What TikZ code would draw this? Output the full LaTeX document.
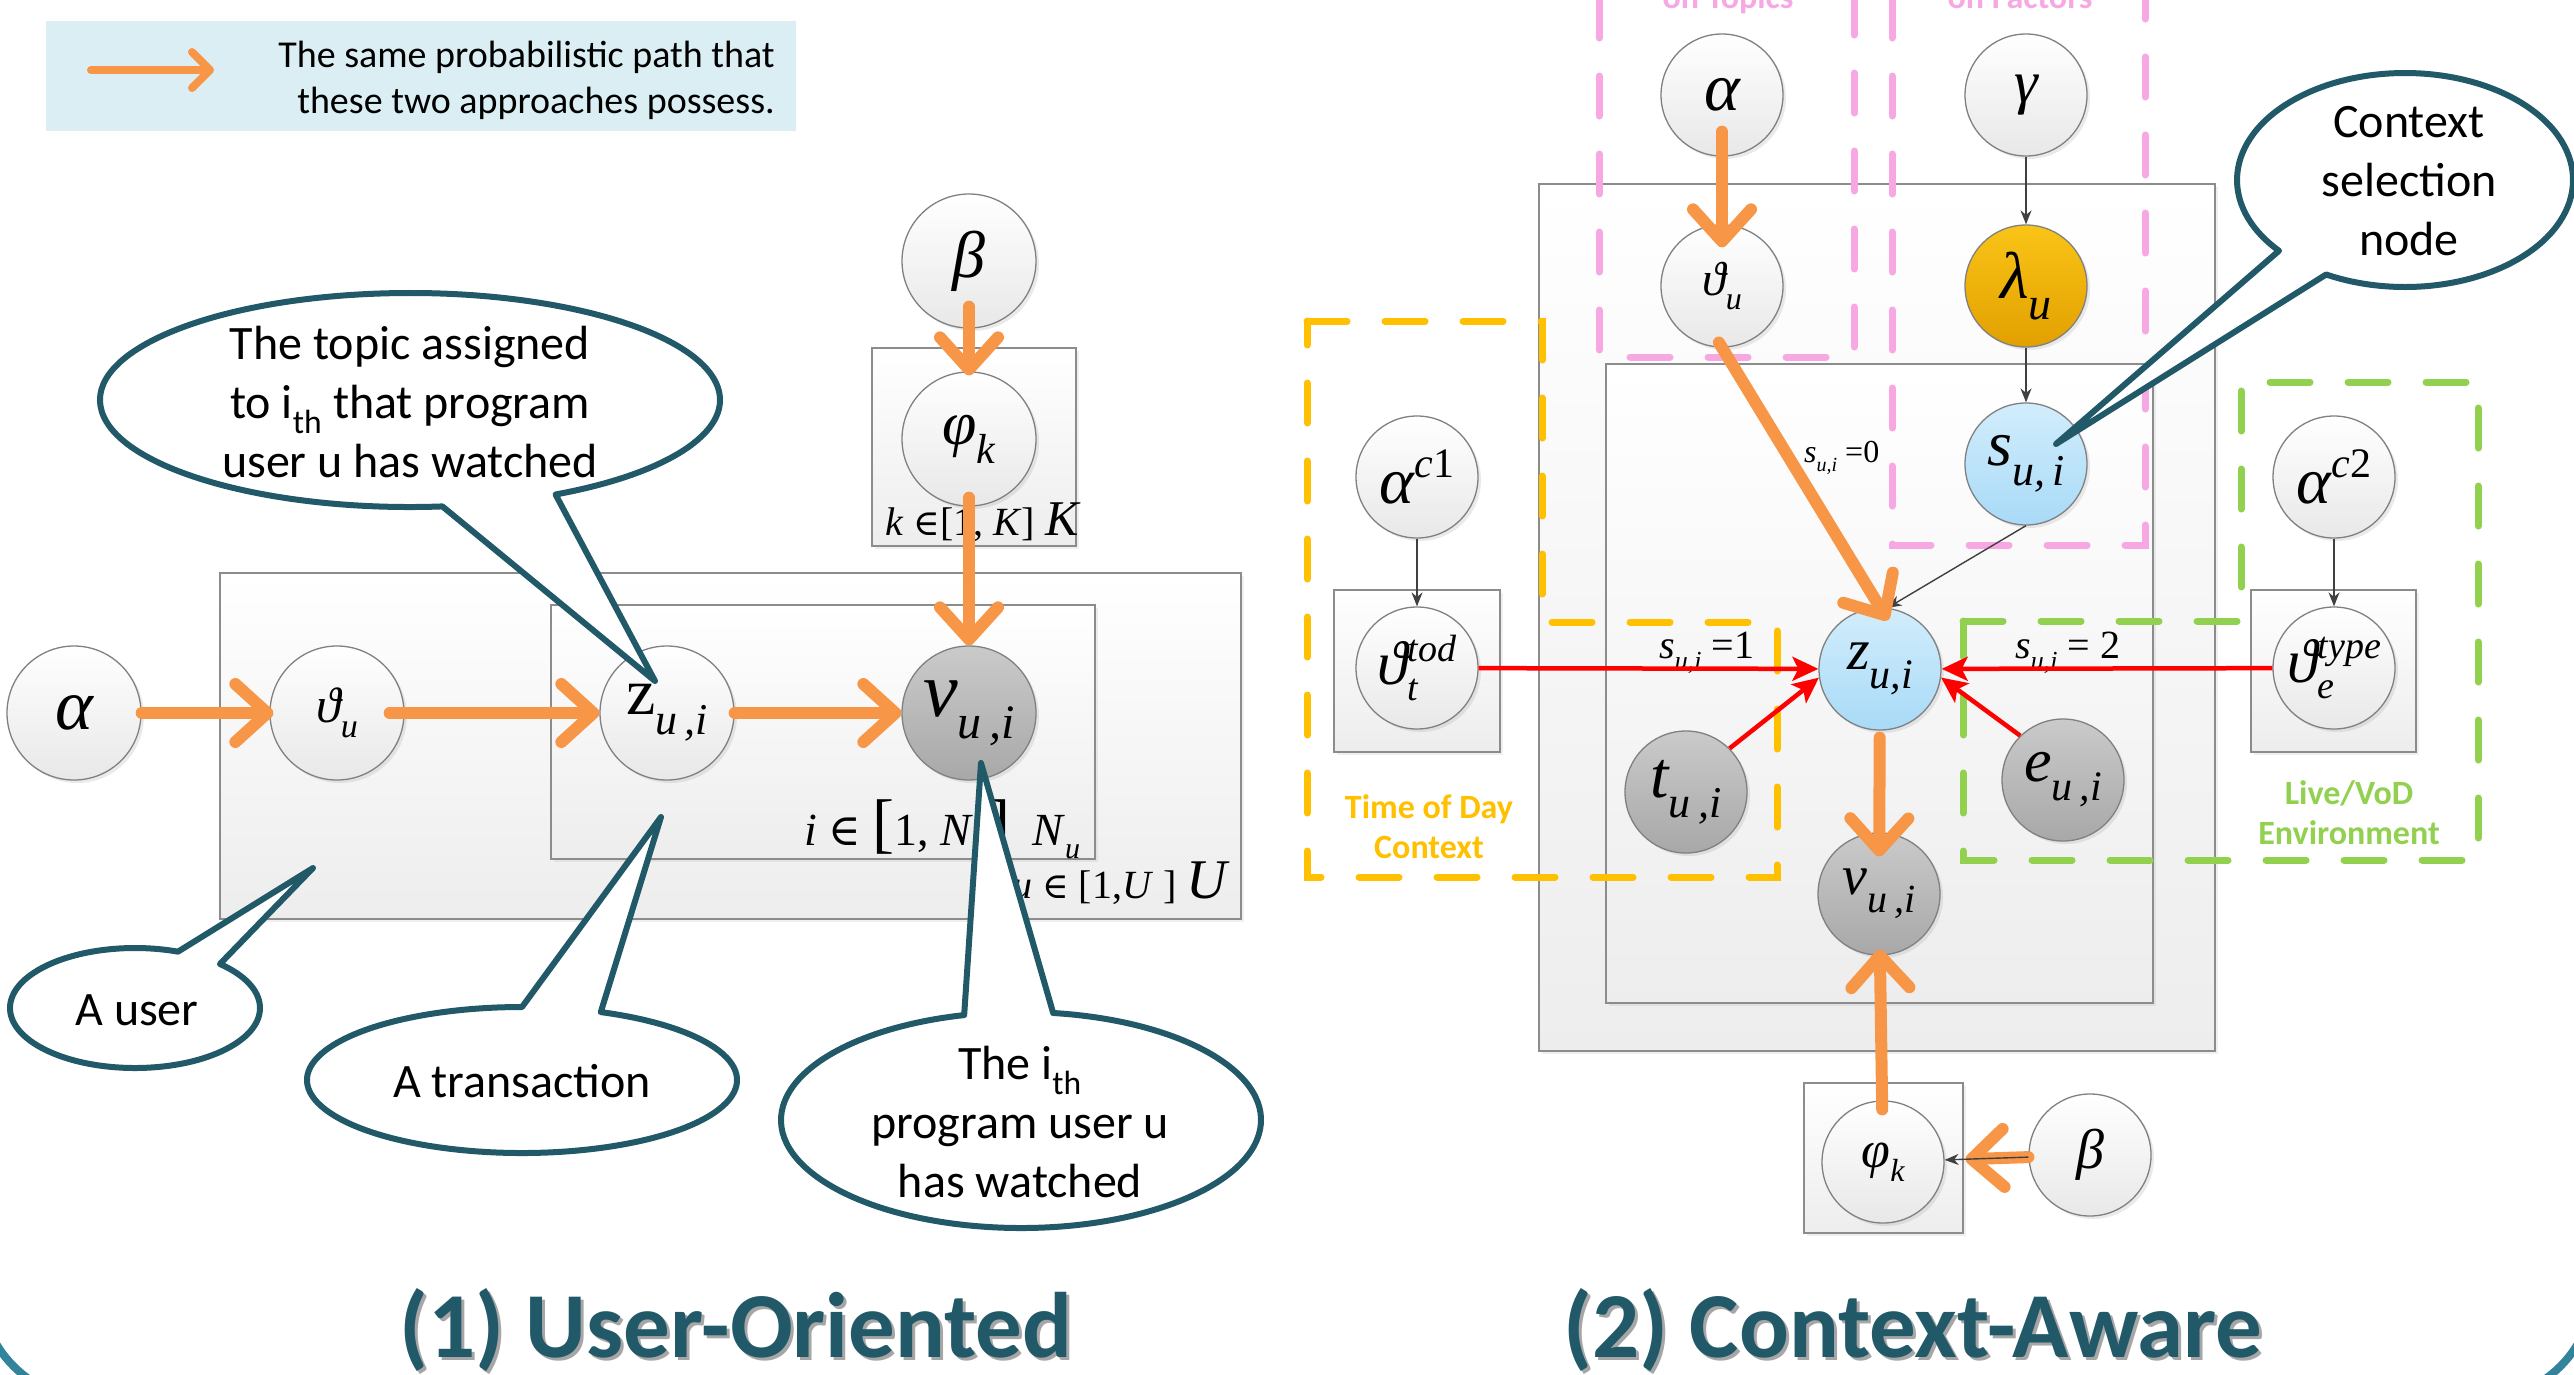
\documentclass[tikz,border=0pt]{standalone}
\usepackage{fontspec}
\setmainfont{Carlito}
\newfontfamily\tms{Liberation Serif}
\newfontfamily\djs{DejaVu Serif}
\usetikzlibrary{arrows.meta,shadows,calc}

\definecolor{orng}{HTML}{F79646}
\definecolor{tealdk}{HTML}{215968}
\definecolor{legbg}{HTML}{DBEEF4}
\definecolor{pinkd}{HTML}{F7A8E3}
\definecolor{yelld}{HTML}{FFC000}
\definecolor{greend}{HTML}{92D050}
\definecolor{bordr}{HTML}{31849B}
\definecolor{obsA}{HTML}{CACACA}
\definecolor{obsB}{HTML}{A8A8A8}
\definecolor{blueA}{HTML}{D2EDFC}
\definecolor{blueB}{HTML}{A8DAF7}
\definecolor{goldA}{HTML}{FAC417}
\definecolor{goldB}{HTML}{E2A000}
\definecolor{arrgray}{HTML}{404040}
\definecolor{redarr}{HTML}{FF0000}

% italic serif symbol, drawn at 20pt and scaled to the wanted size
\newcommand\mv[2]{\scalebox{\fpeval{#1/20}}{\tms\itshape\fontsize{20}{20}\selectfont #2}}
% lowered / raised indices in the serif italic face
\newcommand\lo[2]{\scalebox{\fpeval{#1/20}}{\tms\itshape\fontsize{20}{20}\selectfont\raisebox{-0.45em}{#2}}}
\newcommand\hi[2]{\scalebox{\fpeval{#1/20}}{\tms\itshape\fontsize{20}{20}\selectfont\raisebox{0.62em}{#2}}}
\newcommand\hilo[3]{\scalebox{\fpeval{#1/20}}{\tms\itshape\fontsize{20}{20}\selectfont
  \rlap{\raisebox{-0.42em}{#3}}\raisebox{0.62em}{#2}}}
\newcommand\elem[1]{{\djs\fontsize{#1}{#1}\selectfont ∈}}

\tikzset{
  rvbase/.style={circle, inner sep=0pt, draw=black!50, line width=1.3pt,
    drop shadow={shadow xshift=3pt, shadow yshift=-3pt, opacity=0.16}},
  latL/.style={rvbase, minimum size=134pt, top color=white, bottom color=black!9},
  obsL/.style={rvbase, minimum size=134pt, top color=obsA, bottom color=obsB},
  latR/.style={rvbase, minimum size=122pt, top color=white, bottom color=black!9},
  obsR/.style={rvbase, minimum size=122pt, top color=obsA, bottom color=obsB},
  blueR/.style={rvbase, minimum size=122pt, top color=blueA, bottom color=blueB},
  goldR/.style={rvbase, minimum size=122pt, top color=goldA, bottom color=goldB},
  sym/.style={inner sep=0pt},
  plate/.style={draw=black!45, line width=1.3pt, top color=white, bottom color=black!7,
    drop shadow={shadow xshift=3pt, shadow yshift=-3pt, opacity=0.12}},
  oarr/.style={draw=orng, line width=12pt, line cap=round,
    -{Straight Barb[length=32pt,width=58pt,round]}},
  thinarr/.style={draw=arrgray, line width=1.4pt, -{Stealth[length=14pt,width=11pt]}},
  rarr/.style={draw=redarr, line width=4.5pt, -{Stealth[length=26pt,width=24pt,inset=6pt]}},
  dashbox/.style={line width=7pt, line cap=round, dash pattern=on 40pt off 38pt},
  callout/.style={draw=tealdk, line width=6pt, fill=white, line join=round},
  calltext/.style={align=center, font=\fontsize{48}{59}\selectfont, inner sep=0pt},
  lbl/.style={inner sep=0pt, font=\tms\fontsize{#1}{#1}\selectfont},
}

\begin{document}
\begin{tikzpicture}[x=1pt, y=-1pt]
\useasboundingbox (0,0) rectangle (2574,1374);
\fill[white] (0,0) rectangle (2574,1374);
\clip (0,0) rectangle (2574,1374);

% outer frame, only its lower corners fall inside the page
\draw[bordr, line width=8pt, rounded corners=115pt] (-20,-300) rectangle (2594,1400);

% legend
\fill[legbg] (46,21) rectangle (796,131);
\coordinate (legA) at (91,70);
\coordinate (legB) at (214,70);
\draw[oarr, line width=8pt, -{Straight Barb[length=18pt,width=36pt,round]}] (legA) -- (legB);
\node[anchor=base east, inner sep=0pt, font=\fontsize{38}{38}\selectfont] (leg1) at (775,67) {The same probabilistic path that};
\node[anchor=base east, inner sep=0pt, font=\fontsize{38}{38}\selectfont] (leg2) at (775,113) {these two approaches possess.};

% ---------- (1) user-oriented model ----------
\draw[plate] (220,573) rectangle (1241,919);
\draw[plate] (551,605) rectangle (1095,859);
\draw[plate] (872,348) rectangle (1076,546);

\node[latL] (aL) at (74,713) {};
\node[latL] (thL) at (337,713) {};
\node[latL] (zL) at (667,713) {};
\node[obsL] (vL) at (969,713) {};
\node[latL] (bL) at (969,261) {};
\node[latL] (pL) at (969,439) {};

\node[sym] (aLt) at (aL.center) {\mv{72}{α}};
\node[sym] (thLt) at (thL.center) {\mv{50}{ϑ}\lo{34}{u}};
\node[sym] (zLt) at (zL.center) {\scalebox{3.3}{\tms\fontsize{20}{20}\selectfont z}\lo{44}{u\,,i}};
\node[sym] (vLt) at (vL.center) {\mv{78}{ν}\lo{48}{u\,,i}};
\node[sym] (bLt) at (bL.center) {\mv{66}{β}};
\node[sym] (pLt) at (pL.center) {\mv{62}{φ}\lo{42}{k}};

\node[lbl=46, anchor=base west] (nlab) at (804,845)
  {\textit{i} \elem{44} {\fontsize{66}{66}\selectfont[}1, \textit{N}\lo{30}{u}{\fontsize{66}{66}\selectfont]}\hspace{22pt}\textit{N}\lo{30}{u}};
\node[lbl=40, anchor=base west] (ulab) at (1012,898)
  {\textit{u} \elem{36} [1,\textit{U} ] {\fontsize{56}{56}\selectfont\textit{U}}};
\node[lbl=40, anchor=base west] (klab) at (885,535)
  {\textit{k} \elem{36}[1, \textit{K}] {\fontsize{50}{50}\selectfont\textit{K}}};

\draw[oarr, shorten >=-4pt] (aL) -- (thL);
\draw[oarr, shorten <=-15pt] (thL) -- (zL);
\draw[oarr] (zL) -- (vL);
\draw[oarr, shorten <=-22pt, shorten >=-4pt] (bL) -- (pL);
\draw[oarr, shorten <=-9pt] (pL) -- (vL);

% ---------- (2) context-aware model ----------
\draw[plate] (1539,184) rectangle (2215,1051);
\draw[plate] (1606,364) rectangle (2153,1003);
\draw[plate] (1334,590) rectangle (1500,752);
\draw[plate] (2251,590) rectangle (2416,752);
\draw[plate] (1804,1083) rectangle (1963,1233);

\draw[dashbox, pinkd] (1599,-80) rectangle (1854,357);
\draw[dashbox, pinkd] (1892,-80) rectangle (2145,545);
\draw[dashbox, yelld] (1307,321) -- (1542,321) -- (1542,622) -- (1777,622) -- (1777,877) -- (1307,877) -- cycle;
\draw[dashbox, greend] (1963,621) -- (2241,621) -- (2241,382) -- (2478,382) -- (2478,860) -- (1963,860) -- cycle;

\node[inner sep=0pt, anchor=base, text=pinkd, font=\bfseries\fontsize{34}{34}\selectfont] (topt) at (1728,8) {on Topics};
\node[inner sep=0pt, anchor=base, text=pinkd, font=\bfseries\fontsize{34}{34}\selectfont] (fact) at (2020,8) {on Factors};
\node[inner sep=0pt, align=center, text=yelld, font=\bfseries\fontsize{34}{40}\selectfont] (todl) at (1429,827) {Time of Day\\Context};
\node[inner sep=0pt, align=center, text=greend, font=\bfseries\fontsize{34}{40}\selectfont] (envl) at (2349,813) {Live/VoD\\Environment};

\node[latR] (aR) at (1722,95) {};
\node[latR] (gR) at (2026,95) {};
\node[latR] (thR) at (1722,286) {};
\node[goldR] (lR) at (2026,286) {};
\node[blueR] (sR) at (2026,464) {};
\node[blueR] (zR) at (1880,669) {};
\node[latR] (ac1) at (1417,477) {};
\node[latR] (ac2) at (2334,477) {};
\node[latR] (tod) at (1417,668) {};
\node[latR] (typ) at (2334,668) {};
\node[obsR] (tR) at (1686,792) {};
\node[obsR] (eR) at (2063,780) {};
\node[obsR] (vR) at (1879,894) {};
\node[latR] (pR) at (1883,1162) {};
\node[latR] (bR) at (2090,1155) {};

\node[sym] (aRt) at (aR.center) {\mv{68}{α}};
\node[sym] (gRt) at (gR.center) {\mv{60}{γ}};
\node[sym] (thRt) at (thR.center) {\mv{48}{ϑ}\lo{32}{u}};
\node[sym] (lRt) at (lR.center) {\mv{66}{λ}\lo{46}{u}};
\node[sym] (sRt) at (sR.center) {\mv{64}{s}\lo{44}{u,\,i}};
\node[sym] (zRt) at (zR.center) {\mv{58}{z}\lo{42}{u,i}};
\node[sym] (ac1t) at (ac1.center) {\mv{66}{α}\hi{42}{c\upshape 1}};
\node[sym] (ac2t) at (ac2.center) {\mv{66}{α}\hi{42}{c\upshape 2}};
\node[sym] (todt) at (tod.center) {\mv{62}{ϑ}\hilo{38}{tod}{t}};
\node[sym] (typt) at (typ.center) {\mv{62}{ϑ}\hilo{38}{type}{e}};
\node[sym] (tRt) at (tR.center) {\mv{66}{t}\lo{44}{u\,,i}};
\node[sym] (eRt) at (eR.center) {\mv{62}{e}\lo{42}{u\,,i}};
\node[sym] (vRt) at (vR.center) {\mv{56}{ν}\lo{40}{u\,,i}};
\node[sym] (pRt) at (pR.center) {\mv{52}{φ}\lo{32}{k}};
\node[sym] (bRt) at (bR.center) {\mv{56}{β}};

\node[lbl=40, anchor=base west] (s1) at (1659,658) {\textit{s}\lo{26}{u,i} =1};
\node[lbl=40, anchor=base west] (s2) at (2015,658) {\textit{s}\lo{26}{u,i} = 2};
\node[lbl=32, anchor=base west] (s0) at (1804,462) {\textit{s}\lo{20}{u,i} =0};

\draw[thinarr] (gR) -- (lR);
\draw[thinarr] (lR) -- (sR);
\draw[thinarr] (sR.south) -- (zR.83);
\draw[thinarr] (ac1) -- (tod);
\draw[thinarr] (ac2) -- (typ);

\draw[rarr] (tod) -- (zR);
\draw[rarr] (typ) -- (zR);
\draw[rarr] (tR.45) -- (zR.188);
\draw[rarr] (eR.134) -- (zR.-8);

\draw[oarr, shorten <=-25pt, shorten >=-23pt] (aR) -- (thR);
\draw[oarr, shorten <=-6pt, shorten >=-15pt] (thR.south) -- (zR.north);
\draw[oarr, shorten <=7pt, shorten >=-24pt] (zR) -- (vR);
\draw[oarr, shorten <=-9pt, shorten >=-6pt] (pR) -- (vR);
\draw[oarr, shorten >=21pt] (bR) -- (pR);
\draw[thinarr] (bR) -- (pR);

% ---------- callouts ----------
\coordinate (tipZ) at (655,681);
\draw[callout] ($(410,400)+(84:310 and 107)$) arc[start angle=84, end angle=422, x radius=310, y radius=107] -- (tipZ) -- cycle;
\node[calltext] (cZ) at (410,402) {The topic assigned\\to i\textsubscript{th} that program\\user u has watched};

\coordinate (tipU) at (313,868);
\draw[callout] ($(135,1008)+(-47.2:125 and 60)$) arc[start angle=-47.2, end angle=290.1, x radius=125, y radius=60] -- (tipU) -- cycle;
\node[calltext] (cU) at (137,1010) {A user};

\coordinate (tipT) at (661,817);
\draw[callout] ($(522,1080)+(-68.5:215 and 73)$) arc[start angle=-68.5, end angle=270, x radius=215, y radius=73] -- (tipT) -- cycle;
\node[calltext] (cT) at (522,1081) {A transaction};

\coordinate (tipV) at (981,763);
\draw[callout] ($(1021,1120)+(-82.3:240 and 108)$) arc[start angle=-82.3, end angle=256.3, x radius=240, y radius=108] -- (tipV) -- cycle;
\node[calltext] (cV) at (1020,1122) {The i\textsubscript{th}\\program user u\\has watched};

\coordinate (tipS) at (2056,444);
\draw[callout] ($(2405,180)+(138.6:168 and 107)$) arc[start angle=138.6, end angle=478, x radius=168, y radius=107] -- (tipS) -- cycle;
\node[calltext] (cS) at (2409,181) {Context\\selection\\node};

% ---------- titles ----------
\node[anchor=base, inner sep=0pt, text=black!35, font=\bfseries\fontsize{93}{93}\selectfont] (t1s) at (739,1360) {(1) User-Oriented};
\node[anchor=base, inner sep=0pt, text=tealdk, font=\bfseries\fontsize{93}{93}\selectfont] (t1) at (736,1357) {(1) User-Oriented};
\node[anchor=base, inner sep=0pt, text=black!35, font=\bfseries\fontsize{93}{93}\selectfont] (t2s) at (1916,1360) {(2) Context-Aware};
\node[anchor=base, inner sep=0pt, text=tealdk, font=\bfseries\fontsize{93}{93}\selectfont] (t2) at (1913,1357) {(2) Context-Aware};
\end{tikzpicture}
\end{document}
